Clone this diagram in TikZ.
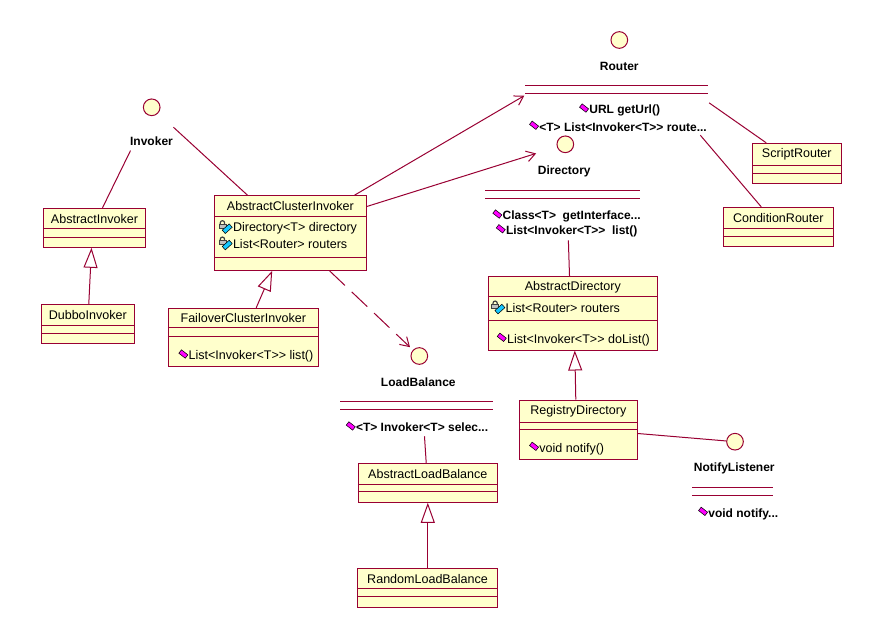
\documentclass[tikz,border=0pt]{standalone}
\usepackage{fontspec}
\setmainfont{Liberation Sans}
\newfontfamily\ifacefont{Liberation Sans}
\usepackage{graphicx}
\usetikzlibrary{arrows.meta,fit,calc}
\definecolor{umlline}{RGB}{153,0,51}
\definecolor{umlfill}{RGB}{255,255,204}
\definecolor{micol}{RGB}{255,0,255}
\definecolor{aicol}{RGB}{20,200,255}
\newcommand\micon{\tikz[baseline=0pt,x=1pt,y=1pt]{\draw[black,fill=micol,line width=0.4pt,rotate around={-38:(0.5,7.5)}] (0.5,4.3) rectangle (6.6,7.5);}\kern0.4pt}
\newcommand\aicon{\tikz[baseline=0pt,x=1pt,y=1pt,line width=0.4pt]{\draw[black!75,line width=0.9pt] (1.1,5.8) -- (1.1,6.8) arc(180:0:1.6) -- (4.3,5.8);\draw[black!75,fill=gray!50] (0,2.8) rectangle (5.4,6.1);\draw[black,fill=aicol,rotate around={42:(6.3,2.4)}] (2.8,0.7) rectangle (9.8,4.1);}\kern0.4pt}
\newcommand\umlseps[3]{\draw[line] ($(#1.north west)+(0,#2)$) -- ($(#1.north east)+(0,#2)$);\draw[line] ($(#1.north west)+(0,#3)$) -- ($(#1.north east)+(0,#3)$);}
\tikzset{
 line/.style={draw=umlline, line width=0.75pt},
 classbox/.style={draw=umlline, fill=umlfill, line width=0.75pt, inner sep=0pt},
 cname/.style={font=\fontsize{9.4}{11}\selectfont, inner sep=0pt},
 ctext/.style={font=\fontsize{9.4}{11}\selectfont, inner sep=0pt, anchor=west},
 iface/.style={circle, draw=umlline, fill=umlfill, line width=0.75pt, minimum size=12.5pt, inner sep=0pt},
 ilabel/.style={font=\fontsize{9}{11}\selectfont\bfseries, inner sep=0pt},
 imeth/.style={font=\ifacefont\fontsize{9}{11}\selectfont\bfseries, inner sep=0pt, anchor=west},
 gen/.style={line, -{Triangle[open,length=15pt,width=10.5pt]}},
 assoc/.style={line, -{Straight Barb[length=6.5pt,width=8pt]}},
 dep/.style={assoc, dash pattern=on 16pt off 7pt},
}
\begin{document}
\begin{tikzpicture}[x=0.75pt,y=-0.75pt]
\useasboundingbox (0,0) rectangle (884,638);
\fill[white] (0,0) rectangle (884,638);

% ---------- classes ----------
\node[classbox, fit={(43.3,208.3)(145.7,247.3)}] (ai) {};
\umlseps{ai}{21}{29.4}
\node[cname] (ainame) at (94.5,218.8) {AbstractInvoker};

\node[classbox, fit={(41.3,304.3)(134.3,343.3)}] (di) {};
\umlseps{di}{21.4}{29.7}
\node[cname] (diname) at (87.8,315) {DubboInvoker};

\node[classbox, fit={(214.3,195.7)(366.3,270.3)}] (aci) {};
\umlseps{aci}{21}{62}
\node[cname] (aciname) at (290.3,206.2) {AbstractClusterInvoker};
\node[ctext] (acia1) at (218.3,227.3) {\aicon Directory<T> directory};
\node[ctext] (acia2) at (218.3,243.3) {\aicon List<Router> routers};

\node[classbox, fit={(168.3,308.3)(318.3,366)}] (fci) {};
\umlseps{fci}{20}{29}
\node[cname] (fciname) at (243.3,318.3) {FailoverClusterInvoker};
\node[ctext] (fcim) at (178.3,356) {\micon List<Invoker<T>{}> list()};

\node[classbox, fit={(358.3,463.3)(497.3,502.3)}] (alb) {};
\umlseps{alb}{21.4}{29}
\node[cname] (albname) at (427.8,474) {AbstractLoadBalance};

\node[classbox, fit={(357.3,568.3)(497.7,607.3)}] (rlb) {};
\umlseps{rlb}{21}{29}
\node[cname] (rlbname) at (427.5,578.8) {RandomLoadBalance};

\node[classbox, fit={(488.3,276.3)(657.3,350)}] (ad) {};
\umlseps{ad}{21}{45}
\node[cname] (adname) at (572.8,286.8) {AbstractDirectory};
\node[ctext] (ada) at (491,307.3) {\aicon List<Router> routers};
\node[ctext] (adm) at (496.7,339.3) {\micon List<Invoker<T>{}> doList()};

\node[classbox, fit={(519.3,400)(637.3,459.3)}] (rd) {};
\umlseps{rd}{22.7}{30.3}
\node[cname] (rdname) at (578.3,411.3) {RegistryDirectory};
\node[ctext] (rdm) at (529,448.3) {\micon void notify()};

\node[classbox, fit={(752.7,143.3)(841,183.3)}] (sr) {};
\umlseps{sr}{22.4}{30.7}
\node[cname] (srname) at (796.8,154.5) {ScriptRouter};

\node[classbox, fit={(723.3,207.3)(833.3,246.7)}] (cr) {};
\umlseps{cr}{21.7}{29.4}
\node[cname] (crname) at (778.3,218) {ConditionRouter};

% ---------- interfaces ----------
\node[iface] (inv) at (151.7,107.3) {};
\node[ilabel] (invlbl) at (151.5,141.5) {Invoker};

\node[iface] (router) at (619.3,40) {};
\node[ilabel] (routerlbl) at (619.3,66) {Router};
\draw[line] (525,85.7) -- (707.7,85.7);
\draw[line] (525,93.3) -- (707.7,93.3);
\node[imeth] (rm1) at (579,110) {\micon URL getUrl()};
\node[imeth] (rm2) at (529,126) {\micon <T> List<Invoker<T>{}> route...};

\node[iface] (dir) at (565.3,144.3) {};
\node[ilabel] (dirlbl) at (564.3,171.7) {Directory};
\draw[line] (485,190.7) -- (640,190.7);
\draw[line] (485,198.3) -- (640,198.3);
\node[imeth] (dm1) at (492.3,216) {\micon Class<T>\ \ getInterface...};
\node[imeth] (dm2) at (495.7,230.7) {\micon List<Invoker<T>{}>\ \ list()};

\node[iface] (lb) at (419.3,356) {};
\node[ilabel] (lblbl) at (418.3,382.7) {LoadBalance};
\draw[line] (340,401.7) -- (492.7,401.7);
\draw[line] (340,409.3) -- (492.7,409.3);
\node[imeth] (lbm) at (345.7,426.7) {\micon <T> Invoker<T> selec...};

\node[iface] (nl) at (735,441.7) {};
\node[ilabel] (nllbl) at (734.3,468.3) {NotifyListener};
\draw[line] (692,487.3) -- (772.7,487.3);
\draw[line] (692,495.3) -- (772.7,495.3);
\node[imeth] (nlm) at (698,513.3) {\micon void notify...};

% ---------- connectors ----------
\draw[line, shorten >=29.5pt] ($(ai.north west)+(59.7,0)$) -- (inv);
\draw[line, shorten >=15.5pt] ($(aci.north west)+(33.7,0)$) -- (inv);
\draw[assoc, shorten >=76pt] ($(aci.north west)+(140.7,0)$) -- (router);
\draw[assoc, shorten >=16.3pt] ($(aci.north east)+(0,11.3)$) -- (dir);
\draw[dep, shorten >=3pt] ($(aci.south west)+(115.7,0)$) -- (lb);
\draw[line, shorten <=75.6pt] (router) -- ($(sr.north west)+(14,0)$);
\draw[line, shorten <=87.2pt] (router) -- ($(cr.north west)+(38.4,0)$);
\draw[line, shorten <=65.5pt] (dir) -- ($(ad.north west)+(81.7,0)$);
\draw[line, shorten <=53.7pt] (lb) -- ($(alb.north west)+(68.4,0)$);
\draw[line] ($(rd.north east)+(0,34)$) -- (nl);

\draw[gen] ($(di.north west)+(48,0)$) -- ($(ai.south west)+(48.7,0)$);
\draw[gen] ($(fci.north west)+(88.4,0)$) -- ($(aci.south west)+(58.4,0)$);
\draw[gen] ($(rd.north west)+(57,0)$) -- ($(ad.south west)+(87,0)$);
\draw[gen] ($(rlb.north west)+(71,0)$) -- ($(alb.south west)+(70,0)$);
\end{tikzpicture}
\end{document}
